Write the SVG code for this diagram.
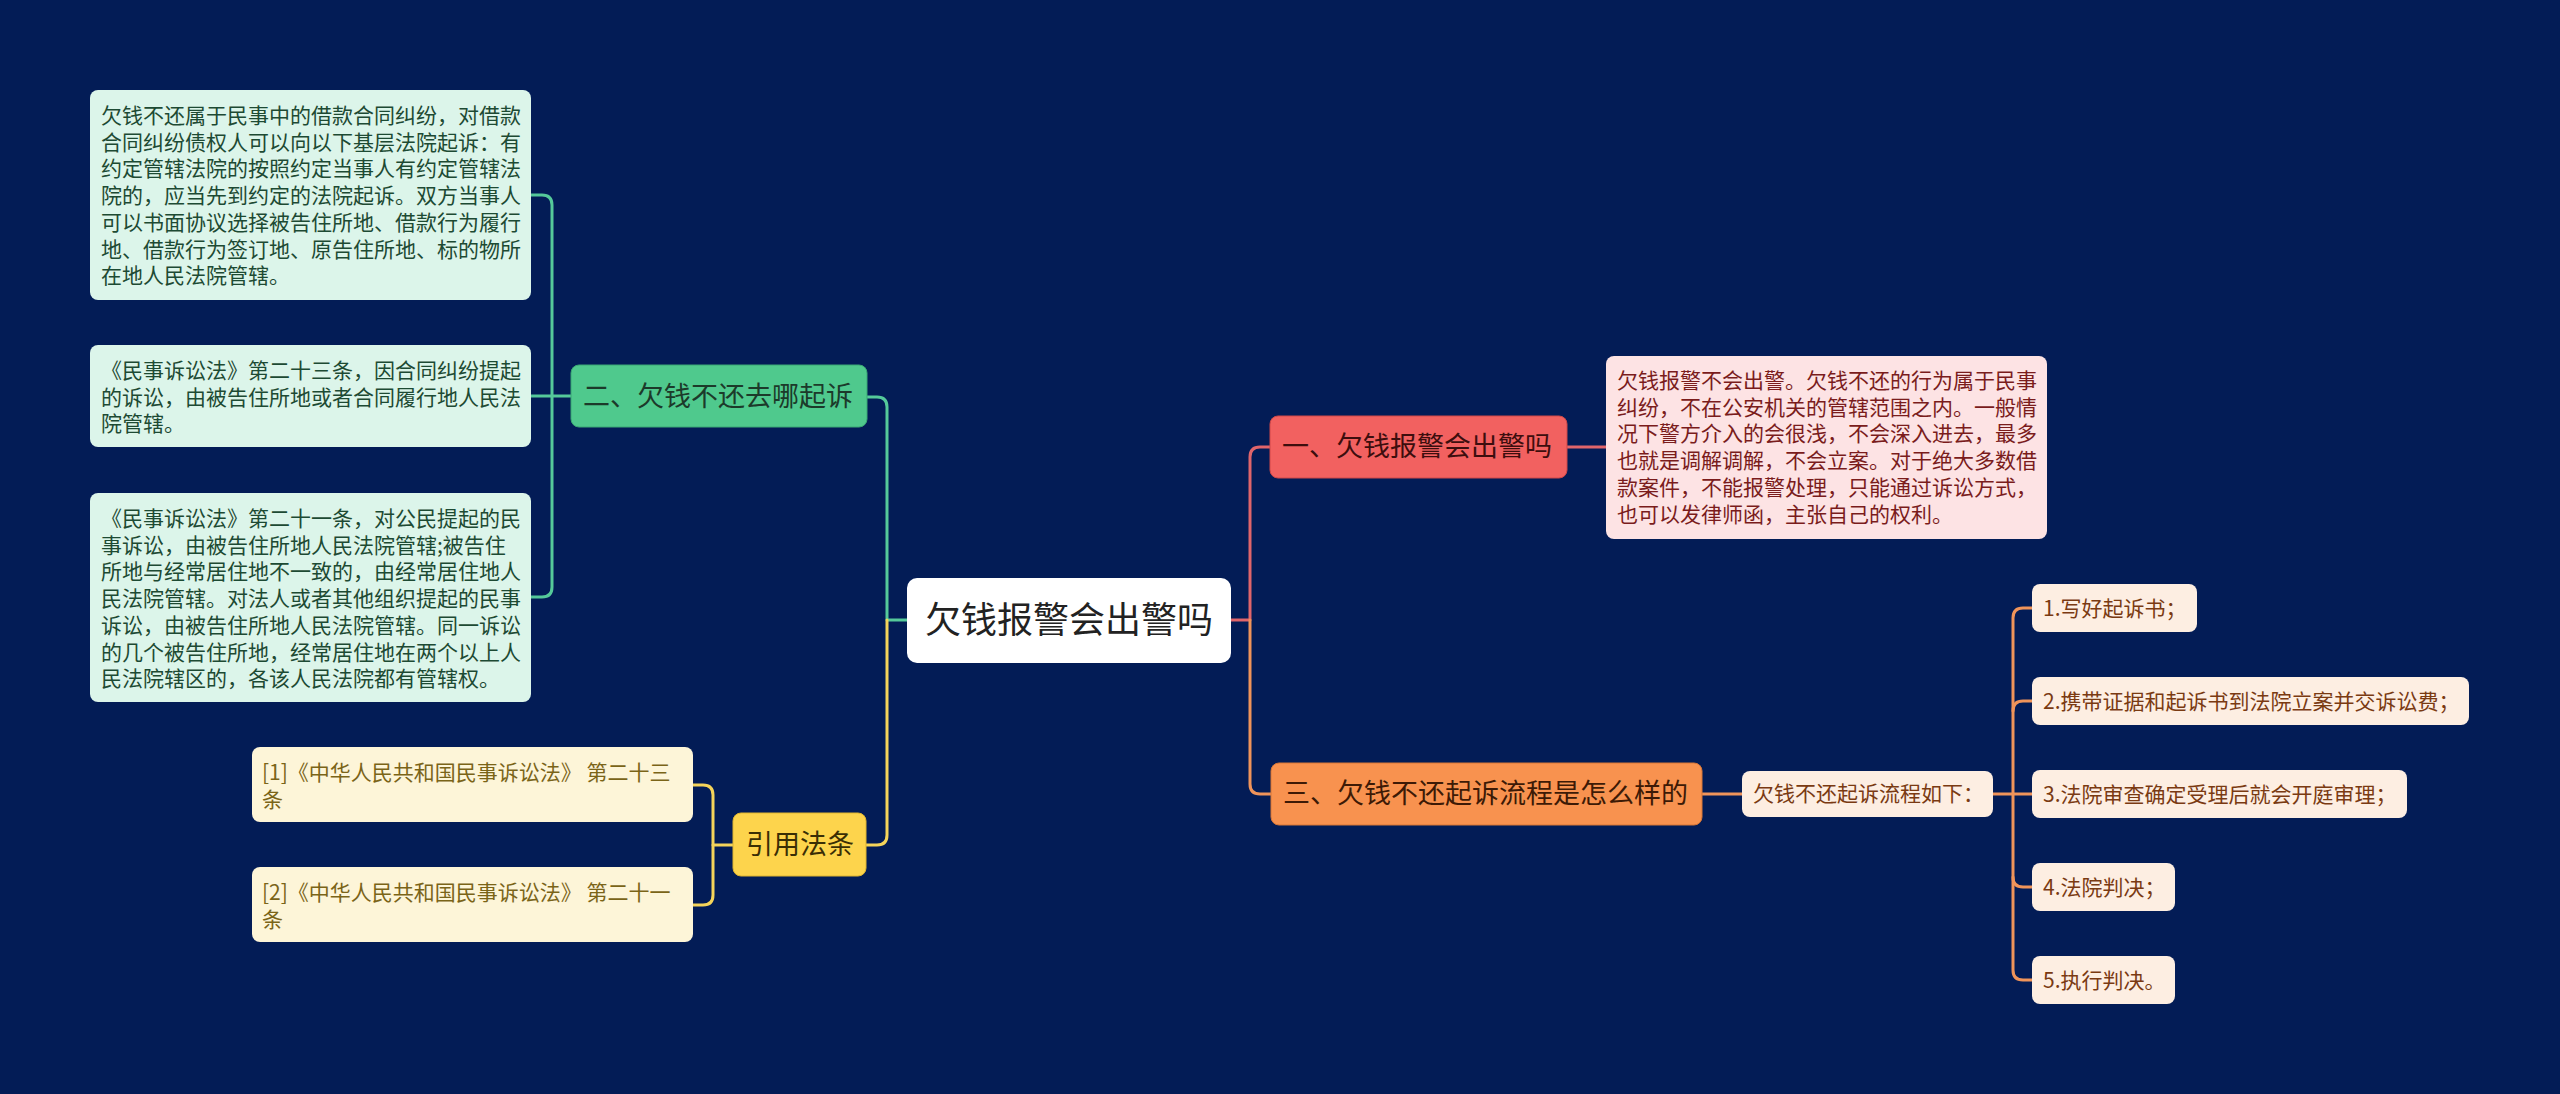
<svg xmlns="http://www.w3.org/2000/svg" width="2560" height="1094" viewBox="0 0 2560 1094">
<style>
text{font-family:"Noto Sans CJK SC","Noto Sans",sans-serif}
.c{fill:none;stroke-width:3;stroke-linecap:round;stroke-linejoin:round}
.t21{font-size:21px}
.t27{font-size:27px}
</style>
<rect x="0" y="0" width="2560" height="1094" fill="#031c56"/>
<g id="connectors">
  <!-- center to right -->
  <path class="c" stroke="#e0656b" d="M1231,620 H1250 V457 Q1250,447 1260,447 H1270"/>
  <path class="c" stroke="#f0945a" d="M1250,620 V784 Q1250,794 1260,794 H1271"/>
  <!-- center to left -->
  <path class="c" stroke="#55c99a" d="M907,620 H887 V407 Q887,397 877,397 H867"/>
  <path class="c" stroke="#f5d45a" d="M887,620 V835 Q887,845 877,845 H866"/>
  <!-- green subtree -->
  <path class="c" stroke="#55c99a" d="M571,396 H552"/>
  <path class="c" stroke="#55c99a" d="M531,195 H542 Q552,195 552,205 V587 Q552,597 542,597 H531"/>
  <path class="c" stroke="#55c99a" d="M531,396 H552"/>
  <!-- yellow subtree -->
  <path class="c" stroke="#f5d45a" d="M733,845 H713"/>
  <path class="c" stroke="#f5d45a" d="M693,785 H703 Q713,785 713,795 V895 Q713,905 703,905 H693"/>
  <!-- red subtree -->
  <path class="c" stroke="#e0656b" d="M1567,447 H1606"/>
  <!-- orange subtree -->
  <path class="c" stroke="#f0945a" d="M1702,794 H1742"/>
  <path class="c" stroke="#f0945a" d="M1993,794 H2032"/>
  <path class="c" stroke="#f0945a" d="M2032,608 H2023 Q2013,608 2013,618 V970 Q2013,980 2023,980 H2032"/>
  <path class="c" stroke="#f0945a" d="M2032,701 H2023 Q2013,701 2013,711"/>
  <path class="c" stroke="#f0945a" d="M2032,887 H2023 Q2013,887 2013,877"/>
</g>
<g id="root">
  <rect x="907" y="578" width="324" height="85" rx="10" fill="#ffffff"/>
  <text x="1069" y="633" font-size="36" text-anchor="middle" fill="#222222">欠钱报警会出警吗</text>
</g>
<g id="branch-green">
  <rect x="571" y="365" width="296" height="62" rx="8" fill="#4fc98d" stroke="#3aa874" stroke-width="1"/>
  <text class="t27" x="583" y="406" fill="#1c3a2a">二、欠钱不还去哪起诉</text>
</g>
<g id="leaf-g1">
  <rect x="90" y="90" width="441" height="210" rx="8" fill="#dcf5ea"/>
  <text class="t21" x="101" y="123" fill="#1d4a33"><tspan x="101">欠钱不还属于民事中的借款合同纠纷，对借款</tspan><tspan x="101" dy="26.7">合同纠纷债权人可以向以下基层法院起诉：有</tspan><tspan x="101" dy="26.7">约定管辖法院的按照约定当事人有约定管辖法</tspan><tspan x="101" dy="26.7">院的，应当先到约定的法院起诉。双方当事人</tspan><tspan x="101" dy="26.7">可以书面协议选择被告住所地、借款行为履行</tspan><tspan x="101" dy="26.7">地、借款行为签订地、原告住所地、标的物所</tspan><tspan x="101" dy="26.7">在地人民法院管辖。</tspan></text>
</g>
<g id="leaf-g2">
  <rect x="90" y="345" width="441" height="102" rx="8" fill="#dcf5ea"/>
  <text class="t21" x="101" y="378" fill="#1d4a33"><tspan x="101">《民事诉讼法》第二十三条，因合同纠纷提起</tspan><tspan x="101" dy="26.7">的诉讼，由被告住所地或者合同履行地人民法</tspan><tspan x="101" dy="26.7">院管辖。</tspan></text>
</g>
<g id="leaf-g3">
  <rect x="90" y="493" width="441" height="209" rx="8" fill="#dcf5ea"/>
  <text class="t21" x="101" y="526" fill="#1d4a33"><tspan x="101">《民事诉讼法》第二十一条，对公民提起的民</tspan><tspan x="101" dy="26.7">事诉讼，由被告住所地人民法院管辖;被告住</tspan><tspan x="101" dy="26.7">所地与经常居住地不一致的，由经常居住地人</tspan><tspan x="101" dy="26.7">民法院管辖。对法人或者其他组织提起的民事</tspan><tspan x="101" dy="26.7">诉讼，由被告住所地人民法院管辖。同一诉讼</tspan><tspan x="101" dy="26.7">的几个被告住所地，经常居住地在两个以上人</tspan><tspan x="101" dy="26.7">民法院辖区的，各该人民法院都有管辖权。</tspan></text>
</g>
<g id="branch-yellow">
  <rect x="733" y="813" width="133" height="63" rx="8" fill="#fdd44c" stroke="#e0b52e" stroke-width="1"/>
  <text class="t27" x="800" y="854" text-anchor="middle" fill="#3a2e05">引用法条</text>
</g>
<g id="ref-1">
  <rect x="252" y="747" width="441" height="75" rx="8" fill="#fdf5d8"/>
  <text class="t21" x="262" y="780" fill="#7a6418"><tspan x="262">[1]《中华人民共和国民事诉讼法》 第二十三</tspan><tspan x="262" dy="26.7">条</tspan></text>
</g>
<g id="ref-2">
  <rect x="252" y="867" width="441" height="75" rx="8" fill="#fdf5d8"/>
  <text class="t21" x="262" y="900" fill="#7a6418"><tspan x="262">[2]《中华人民共和国民事诉讼法》 第二十一</tspan><tspan x="262" dy="26.7">条</tspan></text>
</g>
<g id="branch-red">
  <rect x="1270" y="416" width="297" height="62" rx="8" fill="#f26160" stroke="#d04848" stroke-width="1"/>
  <text class="t27" x="1282" y="456" fill="#3d0e0e">一、欠钱报警会出警吗</text>
</g>
<g id="leaf-red">
  <rect x="1606" y="356" width="441" height="183" rx="8" fill="#fde3e4"/>
  <text class="t21" x="1617" y="388" fill="#7a1c1c"><tspan x="1617">欠钱报警不会出警。欠钱不还的行为属于民事</tspan><tspan x="1617" dy="26.7">纠纷，不在公安机关的管辖范围之内。一般情</tspan><tspan x="1617" dy="26.7">况下警方介入的会很浅，不会深入进去，最多</tspan><tspan x="1617" dy="26.7">也就是调解调解，不会立案。对于绝大多数借</tspan><tspan x="1617" dy="26.7">款案件，不能报警处理，只能通过诉讼方式，</tspan><tspan x="1617" dy="26.7">也可以发律师函，主张自己的权利。</tspan></text>
</g>
<g id="branch-orange">
  <rect x="1271" y="763" width="431" height="62" rx="8" fill="#f8924f" stroke="#d87636" stroke-width="1"/>
  <text class="t27" x="1283" y="803" fill="#3d1a06">三、欠钱不还起诉流程是怎么样的</text>
</g>
<g id="node-flow">
  <rect x="1742" y="771" width="251" height="46" rx="8" fill="#fdeee2"/>
  <text class="t21" x="1753" y="801" fill="#7a3a12">欠钱不还起诉流程如下：</text>
</g>
<g id="step-1">
  <rect x="2032" y="584" width="165" height="48" rx="8" fill="#fdeee2"/>
  <text class="t21" x="2043" y="615.5" fill="#7a3a12">1.写好起诉书；</text>
</g>
<g id="step-2">
  <rect x="2032" y="677" width="437" height="48" rx="8" fill="#fdeee2"/>
  <text class="t21" x="2043" y="708.5" fill="#7a3a12">2.携带证据和起诉书到法院立案并交诉讼费；</text>
</g>
<g id="step-3">
  <rect x="2032" y="770" width="375" height="48" rx="8" fill="#fdeee2"/>
  <text class="t21" x="2043" y="801.5" fill="#7a3a12">3.法院审查确定受理后就会开庭审理；</text>
</g>
<g id="step-4">
  <rect x="2032" y="863" width="143" height="48" rx="8" fill="#fdeee2"/>
  <text class="t21" x="2043" y="894.5" fill="#7a3a12">4.法院判决；</text>
</g>
<g id="step-5">
  <rect x="2032" y="956" width="143" height="48" rx="8" fill="#fdeee2"/>
  <text class="t21" x="2043" y="987.5" fill="#7a3a12">5.执行判决。</text>
</g>
</svg>
